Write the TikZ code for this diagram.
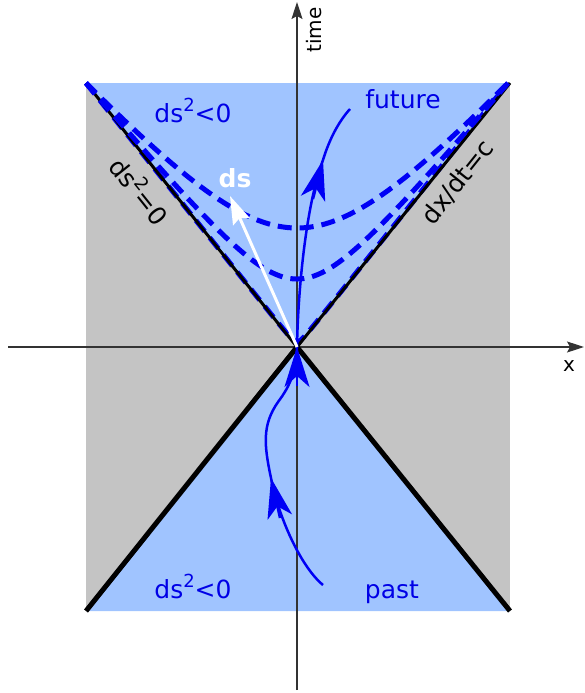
\documentclass[tikz,border=0pt]{standalone}
\usepackage{fontspec}
\setmainfont{DejaVu Sans}
\usetikzlibrary{arrows.meta}
\definecolor{coneblue}{RGB}{160,196,255}
\definecolor{elsegray}{RGB}{196,196,196}
\definecolor{lineblue}{RGB}{0,0,245}
\definecolor{textblue}{RGB}{0,0,230}
\newcommand{\sqr}{\raisebox{0.42em}{\fontsize{18}{20}\selectfont 2}}
\tikzset{
  axisline/.style={line width=1.2pt, black!80, -{Stealth[length=17pt,width=11pt,inset=3pt]}},
  hyper/.style={lineblue, line width=5pt, dash pattern=on 14pt off 8pt},
  worldline/.style={lineblue, line width=2.5pt},
  bighead/.style={lineblue, line width=2.5pt, -{Stealth[length=40pt,width=25pt,inset=11pt]}},
  bluelabel/.style={text=textblue, font=\fontsize{25}{30}\selectfont, inner sep=0pt},
  blacklabel/.style={text=black, font=\fontsize{25}{30}\selectfont, inner sep=0pt},
}
\begin{document}
\begin{tikzpicture}[x=1pt,y=-1pt]
\useasboundingbox (0,0) rectangle (585,693);
% regions
\coordinate (O) at (297,347);
\coordinate (TL) at (86,83);
\coordinate (TR) at (510,83);
\coordinate (BL) at (86,611);
\coordinate (BR) at (510,611);
\fill[elsegray] (TL) rectangle (BR);
\fill[coneblue] (TL) -- (TR) -- (O) -- cycle;
\fill[coneblue] (BL) -- (BR) -- (O) -- cycle;
% axes
\coordinate (xs) at (8,347);
\coordinate (xe) at (584,347);
\coordinate (ts) at (297,690);
\coordinate (te) at (297,2);
\draw[axisline] (xs) -- (xe);
\draw[axisline] (ts) -- (te);
% light cone
\begin{scope}[shift={(297,347)}]
\draw[hyper] plot[domain=-211:211, samples=121, smooth] (\x, {-264*sqrt(0.0004+0.9996*(\x/211)^2)});
\end{scope}
\draw[black, line width=3pt] (TL) -- (O) -- (TR);
\draw[black, line width=5pt] (BL) -- (O) -- (BR);
% hyperbolae
\begin{scope}[shift={(297,347)}]
\draw[hyper] plot[domain=-211:211, samples=121, smooth] (\x, {-264*sqrt(0.0663+0.9337*(\x/211)^2)});
\draw[hyper] plot[domain=-211:211, samples=121, smooth] (\x, {-264*sqrt(0.2032+0.7968*(\x/211)^2)});
\end{scope}
% future world line
\coordinate (fa) at (323,160);
\coordinate (fb) at (350,109);
\coordinate (fh) at (313,199);
\draw[worldline] (O) .. controls (298,290) and (306,205) .. (fa) .. controls (330,137) and (340,120) .. (fb);
\draw[bighead] (fh) -- (fa);
% past world line
\coordinate (pa) at (323,585);
\coordinate (pb) at (271,478);
\coordinate (ph) at (280,518);
\coordinate (ph2) at (297,386);
\draw[worldline] (pa) .. controls (300,566) and (278,515) .. (pb) .. controls (264,445) and (262,425) .. (278,402) .. controls (290,386) and (296,372) .. (O);
\draw[bighead] (ph) -- (pb);
\draw[bighead] (ph2) -- (O);
% ds vector
\coordinate (dsend) at (230,196);
\draw[white, line width=3pt, -{Stealth[length=28pt,width=18pt,inset=4pt]}] (O) -- (dsend);
% labels
\node[bluelabel, anchor=base] (fut) at (403,108) {future};
\node[bluelabel, anchor=base] (tl) at (193,122) {ds\sqr<0};
\node[bluelabel, anchor=base] (bl) at (193,598) {ds\sqr<0};
\node[bluelabel, anchor=base] (past) at (392,598) {past};
\node[blacklabel, rotate=-51.4] (null) at (141,190) {ds\sqr=0};
\node[blacklabel, rotate=51.4] (light) at (458,182) {dx/dt=c};
\node[text=white, font=\fontsize{25}{30}\selectfont\bfseries, inner sep=0pt, anchor=base] (ds) at (235,187) {ds};
\node[text=black, font=\fontsize{20}{24}\selectfont, inner sep=0pt, anchor=base] (xl) at (569,371) {x};
\node[text=black, font=\fontsize{20}{24}\selectfont, inner sep=0pt, rotate=90] (tm) at (314,30) {time};
\end{tikzpicture}
\end{document}
